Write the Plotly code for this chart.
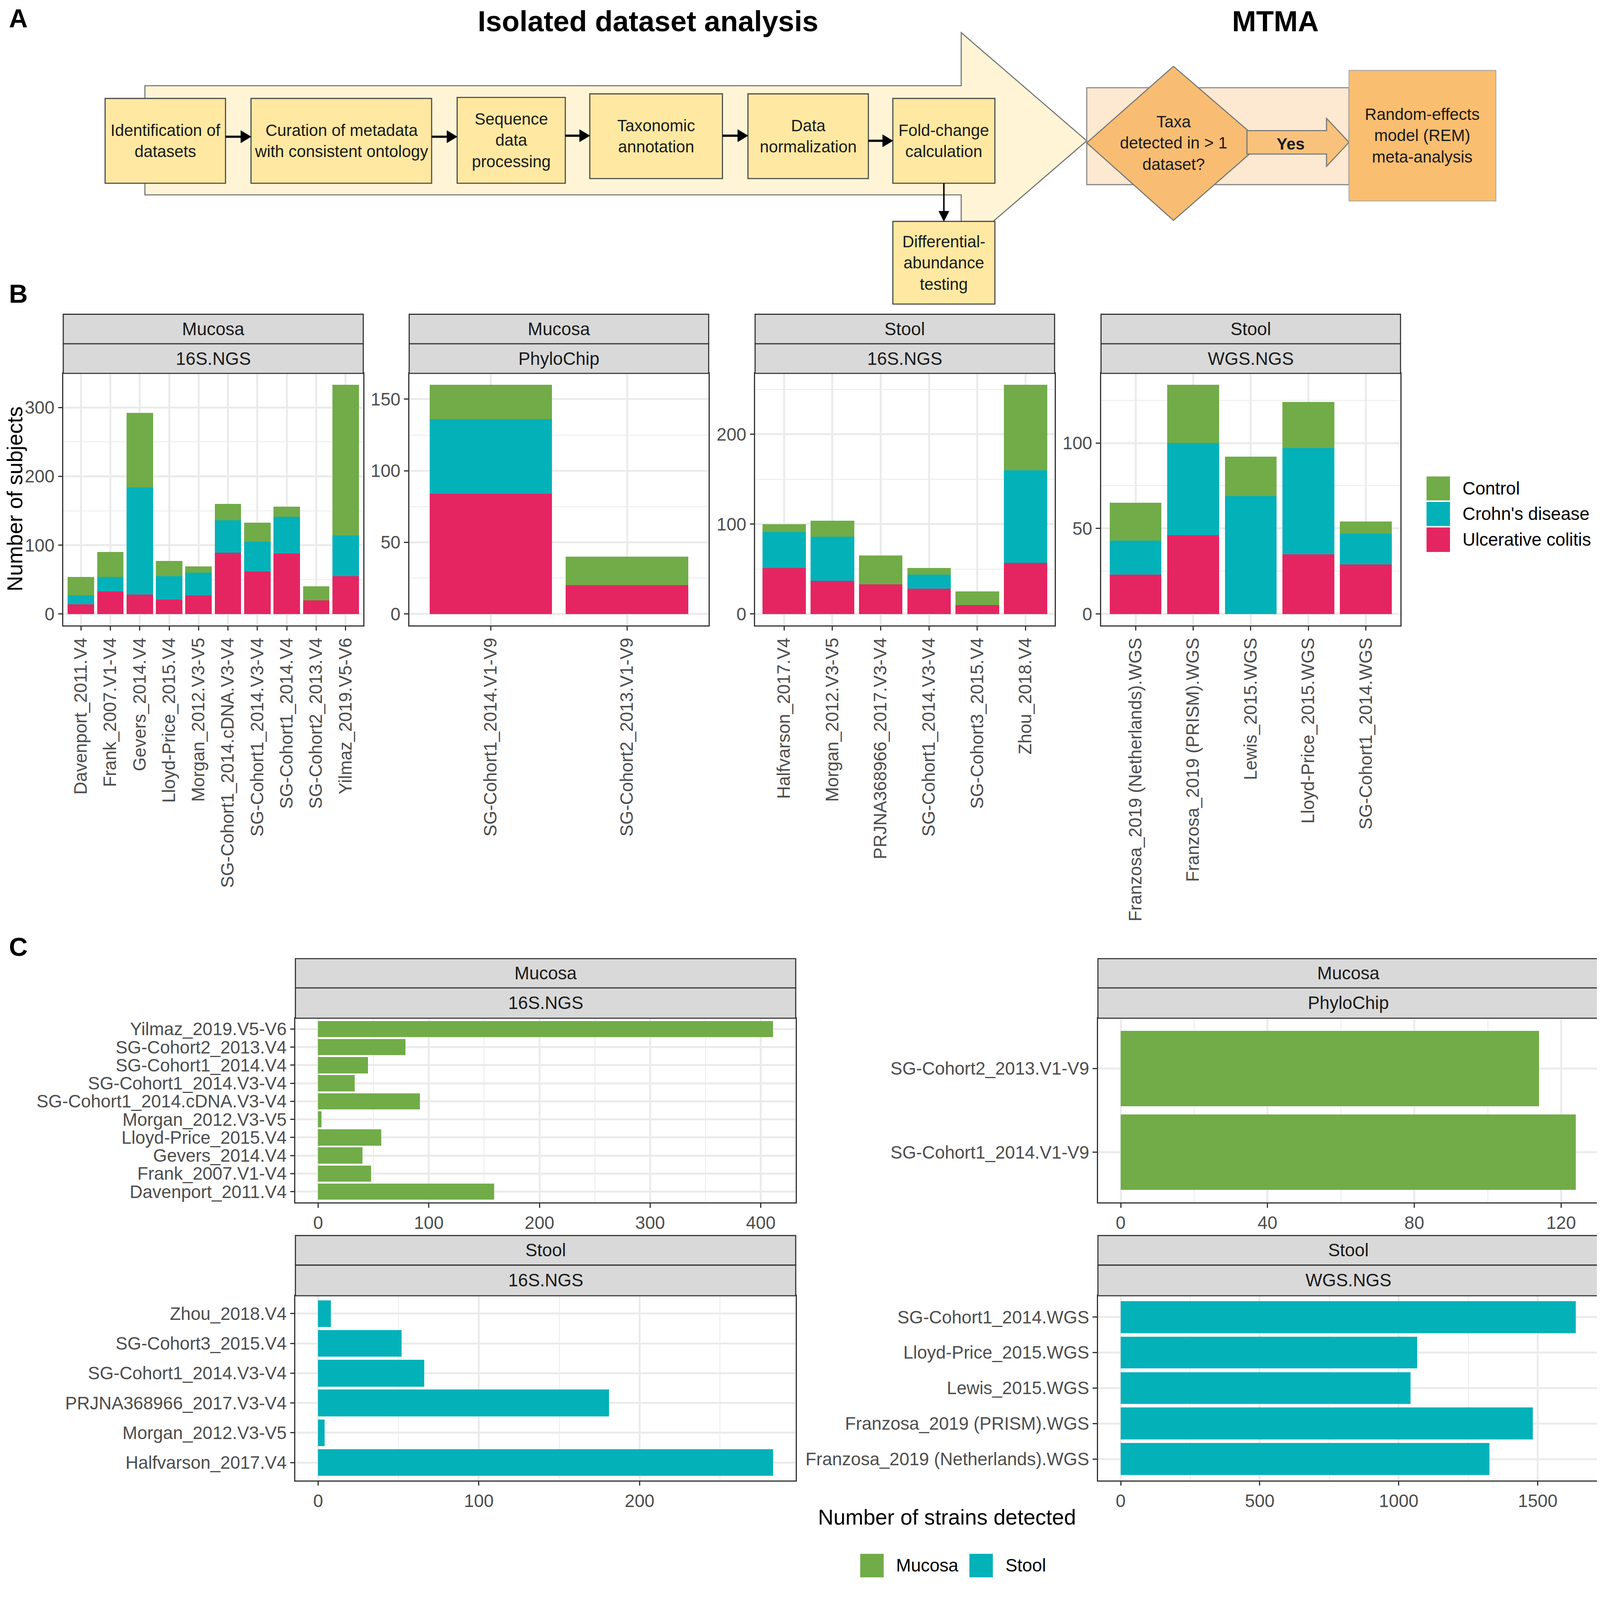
import plotly.graph_objects as go

# ======================= DATA =======================
# Panel B: number of subjects (stacked: UC bottom, CD middle, Control top)
b1_labels = ["Davenport_2011.V4", "Frank_2007.V1-V4", "Gevers_2014.V4", "Lloyd-Price_2015.V4",
             "Morgan_2012.V3-V5", "SG-Cohort1_2014.cDNA.V3-V4", "SG-Cohort1_2014.V3-V4",
             "SG-Cohort1_2014.V4", "SG-Cohort2_2013.V4", "Yilmaz_2019.V5-V6"]
b1_uc = [14, 33, 28, 21, 27, 89, 62, 88, 20, 55]
b1_cd = [13, 21, 156, 34, 33, 47, 43, 53, 0, 59]
b1_ctrl = [27, 36, 108, 22, 9, 24, 28, 15, 20, 219]

b2_labels = ["SG-Cohort1_2014.V1-V9", "SG-Cohort2_2013.V1-V9"]
b2_uc = [84, 20]
b2_cd = [52, 0]
b2_ctrl = [24, 20]

b3_labels = ["Halfvarson_2017.V4", "Morgan_2012.V3-V5", "PRJNA368966_2017.V3-V4",
             "SG-Cohort1_2014.V3-V4", "SG-Cohort3_2015.V4", "Zhou_2018.V4"]
b3_uc = [51, 37, 33, 28, 10, 57]
b3_cd = [40, 49, 0, 16, 0, 103]
b3_ctrl = [9, 18, 32, 7, 15, 95]

b4_labels = ["Franzosa_2019 (Netherlands).WGS", "Franzosa_2019 (PRISM).WGS", "Lewis_2015.WGS",
             "Lloyd-Price_2015.WGS", "SG-Cohort1_2014.WGS"]
b4_uc = [23, 46, 0, 35, 29]
b4_cd = [20, 54, 69, 62, 18]
b4_ctrl = [22, 34, 23, 27, 7]

# Panel C: number of strains detected (bottom-to-top order)
c1_labels = ["Davenport_2011.V4", "Frank_2007.V1-V4", "Gevers_2014.V4", "Lloyd-Price_2015.V4",
             "Morgan_2012.V3-V5", "SG-Cohort1_2014.cDNA.V3-V4", "SG-Cohort1_2014.V3-V4",
             "SG-Cohort1_2014.V4", "SG-Cohort2_2013.V4", "Yilmaz_2019.V5-V6"]
c1_vals = [159, 48, 40, 57, 3, 92, 33, 45, 79, 411]

c2_labels = ["SG-Cohort1_2014.V1-V9", "SG-Cohort2_2013.V1-V9"]
c2_vals = [124, 114]

c3_labels = ["Halfvarson_2017.V4", "Morgan_2012.V3-V5", "PRJNA368966_2017.V3-V4",
             "SG-Cohort1_2014.V3-V4", "SG-Cohort3_2015.V4", "Zhou_2018.V4"]
c3_vals = [283, 4, 181, 66, 52, 8]

c4_labels = ["Franzosa_2019 (Netherlands).WGS", "Franzosa_2019 (PRISM).WGS", "Lewis_2015.WGS",
             "Lloyd-Price_2015.WGS", "SG-Cohort1_2014.WGS"]
c4_vals = [1327, 1483, 1042, 1067, 1637]

legend_b = ["Control", "Crohn's disease", "Ulcerative colitis"]
legend_c = ["Mucosa", "Stool"]

# ======================= GEOMETRY / STYLE =======================
VW, VH = 4096.0, 4051.0      # visible page area (css px)
OFF = 8.0                    # default body margin of the page
W, H = int(VW - OFF), int(VH - OFF)
DW, DH = 1568.0, 1551.0      # reference coordinate frame used below
S = VW / 4317.0              # size scale


def px(x):
    return (x / DW * VW - OFF) / W


def py(y):
    return 1 - (y / DH * VH - OFF) / H


def sz(v):
    return v * S


FONT = "Liberation Sans, Arial, Helvetica, sans-serif"
C_CTRL = "#71AC48"
C_CD = "#03B1B9"
C_UC = "#E42562"
BORDER = "#333333"
GRID = "#EBEBEB"
TICK_C = "#4D4D4D"
TICK_FS = sz(48)
STRIP_FS = sz(48)
TITLE_FS = sz(58)
BOX_FS = sz(44)

fig = go.Figure()
shapes = []
annots = []
layout_axes = {}


def rect(x0, y0, x1, y1, fill, line="#555555", lw=3):
    shapes.append(dict(type="rect", xref="paper", yref="paper",
                       x0=px(x0), x1=px(x1), y0=py(y1), y1=py(y0),
                       fillcolor=fill, line=dict(color=line, width=sz(lw))))


def poly(pts, fill, line="#555555", lw=3):
    path = "M" + " L".join(f"{px(x):.6f},{py(y):.6f}" for x, y in pts) + " Z"
    shapes.append(dict(type="path", xref="paper", yref="paper", path=path,
                       fillcolor=fill, line=dict(color=line, width=sz(lw))))


def text(x, y, s, size, color="#1A1A1A", bold=False, xanchor="center", angle=0):
    if bold:
        s = f"<b>{s}</b>"
    annots.append(dict(x=px(x), y=py(y), xref="paper", yref="paper", text=s,
                       showarrow=False, xanchor=xanchor, yanchor="middle", textangle=angle,
                       font=dict(family=FONT, size=size, color=color)))


def arrow_h(x0, x1, y, lw=6, hl=10, hw=6):
    shapes.append(dict(type="line", xref="paper", yref="paper",
                       x0=px(x0), x1=px(x1 - hl + 1), y0=py(y), y1=py(y),
                       line=dict(color="black", width=sz(lw))))
    poly([(x1, y), (x1 - hl, y - hw), (x1 - hl, y + hw)], "black", "black", 1)


def arrow_v(x, y0, y1, lw=4, hl=10, hw=5):
    shapes.append(dict(type="line", xref="paper", yref="paper",
                       x0=px(x), x1=px(x), y0=py(y0), y1=py(y1 - hl + 1),
                       line=dict(color="black", width=sz(lw))))
    poly([(x, y1), (x - hw, y1 - hl), (x + hw, y1 - hl)], "black", "black", 1)


# ======================= PANEL A =======================
BOX = "#FFE8A1"
poly([(142, 84), (942, 84), (942, 32), (1065, 138), (942, 244), (942, 191), (142, 191)],
     "#FFF5D6", "#777777", 3)
rect(1065, 86, 1322, 181, "#FDE8D1", "#888888", 3)

boxes = [
    (103, 96.5, 221, 179.6, "Identification of<br>datasets"),
    (246, 96.5, 423, 179.6, "Curation of metadata<br>with consistent ontology"),
    (448, 95.5, 554, 179.6, "Sequence<br>data<br>processing"),
    (578, 92, 708, 175, "Taxonomic<br>annotation"),
    (733, 92, 851, 175, "Data<br>normalization"),
    (875, 96.5, 975, 179.6, "Fold-change<br>calculation"),
    (875, 217, 975, 298, "Differential-<br>abundance<br>testing"),
]
for x0, y0, x1, y1, t in boxes:
    rect(x0, y0, x1, y1, BOX, "#4A4A4A", 3)
    text((x0 + x1) / 2, (y0 + y1) / 2, t, BOX_FS)

arrow_h(221, 246, 134)
arrow_h(423, 448, 134)
arrow_h(554, 578, 133)
arrow_h(708, 733, 133)
arrow_h(851, 875, 138)
arrow_v(925, 179.6, 217)

# diamond, yes arrow, REM box
poly([(1065, 140), (1150, 65), (1237, 140), (1150, 216)], "#F8BD72", "#777777", 3)
poly([(1222, 128), (1300, 128), (1300, 116), (1322, 139.5), (1300, 163), (1300, 151), (1222, 151)],
     "#F9C27C", "#777777", 3)
rect(1322, 69, 1466, 197, "#F9BE70", "#A0A0A0", 2)
text(1150, 140, "Taxa<br>detected in > 1<br>dataset?", BOX_FS)
text(1265, 141, "Yes", BOX_FS, bold=True)
text(1394, 133, "Random-effects<br>model (REM)<br>meta-analysis", BOX_FS)

text(635, 21, "Isolated dataset analysis", sz(78), "black", bold=True)
text(1250, 21, "MTMA", sz(78), "black", bold=True)

# panel letters
text(8, 18, "A", sz(70), "black", bold=True, xanchor="left")
text(8, 288, "B", sz(70), "black", bold=True, xanchor="left")
text(8, 928, "C", sz(70), "black", bold=True, xanchor="left")


def base_axis():
    return dict(showline=True, mirror=True, linecolor=BORDER, linewidth=sz(3),
                ticks="outside", ticklen=sz(11), tickwidth=sz(3), tickcolor=BORDER,
                tickfont=dict(family=FONT, size=TICK_FS, color=TICK_C),
                showgrid=True, gridcolor=GRID, gridwidth=sz(5), zeroline=False,
                automargin=False, fixedrange=True)


def strips(x0, x1, ys, labels):
    for (ya, yb), lab in zip(ys, labels):
        rect(x0, ya, x1, yb, "#D9D9D9", BORDER, 3)
        text((x0 + x1) / 2, (ya + yb) / 2, lab, STRIP_FS)


# ======================= PANEL B =======================
b_panels = [
    (b1_labels, b1_uc, b1_cd, b1_ctrl, 62, 356, 100, "Mucosa", "16S.NGS"),
    (b2_labels, b2_uc, b2_cd, b2_ctrl, 401, 694.5, 50, "Mucosa", "PhyloChip"),
    (b3_labels, b3_uc, b3_cd, b3_ctrl, 740, 1033.5, 100, "Stool", "16S.NGS"),
    (b4_labels, b4_uc, b4_cd, b4_ctrl, 1079, 1372.5, 50, "Stool", "WGS.NGS"),
]
B_TOP, B_BOT = 366, 613
for i, (labs, uc, cd, ctrl, x0, x1, dt, s1, s2) in enumerate(b_panels, start=1):
    xa, ya = f"x{i}", f"y{i}"
    for vals, col in ((uc, C_UC), (cd, C_CD), (ctrl, C_CTRL)):
        fig.add_trace(go.Bar(x=labs, y=vals, xaxis=xa, yaxis=ya, width=0.9,
                             marker=dict(color=col, line=dict(width=0)),
                             showlegend=False, hoverinfo="skip"))
    m = max(a + b + c for a, b, c in zip(uc, cd, ctrl))
    n = len(labs)
    ax = base_axis()
    ax.update(domain=[px(x0), px(x1)], anchor=ya, type="category",
              categoryorder="array", categoryarray=labs,
              tickmode="array", tickvals=labs, ticktext=labs,
              range=[-0.6, n - 0.4], tickangle=-90)
    ay = base_axis()
    ay.update(domain=[py(B_BOT), py(B_TOP)], anchor=xa,
              range=[-0.05 * m, 1.05 * m], dtick=dt, tick0=0,
              minor=dict(dtick=dt / 2, tick0=0, showgrid=True, gridcolor=GRID, gridwidth=sz(2.5)))
    layout_axes["xaxis" if i == 1 else f"xaxis{i}"] = ax
    layout_axes["yaxis" if i == 1 else f"yaxis{i}"] = ay
    strips(x0, x1, [(308, 337), (337, 366)], [s1, s2])

annots.append(dict(x=px(14.5), y=py(489), xref="paper", yref="paper",
                   text="Number of subjects", showarrow=False, xanchor="center",
                   yanchor="middle", textangle=-90, borderpad=0,
                   font=dict(family=FONT, size=TITLE_FS, color="black")))

# legend B
for (ya, yb), lab, col in zip([(467, 490.5), (492, 515.5), (517, 541)], legend_b,
                              [C_CTRL, C_CD, C_UC]):
    rect(1398, ya, 1421, yb, col, col, 0)
    text(1432.5, (ya + yb) / 2, lab, TICK_FS, "black", xanchor="left")

# ======================= PANEL C =======================
c_panels = [
    (c1_labels, c1_vals, C_CTRL, 289.5, 779.8, 998, 1178.6, 100, "Mucosa", "16S.NGS", (939.6, 968.3)),
    (c2_labels, c2_vals, C_CTRL, 1076, 1566.6, 998, 1178.6, 40, "Mucosa", "PhyloChip", (939.6, 968.3)),
    (c3_labels, c3_vals, C_CD, 289.5, 779.8, 1270, 1451, 100, "Stool", "16S.NGS", (1211, 1240)),
    (c4_labels, c4_vals, C_CD, 1076, 1566.6, 1270, 1451, 500, "Stool", "WGS.NGS", (1211, 1240)),
]
for j, (labs, vals, col, x0, x1, yt, yb, dt, s1, s2, (sa, sb)) in enumerate(c_panels, start=5):
    xa, ya = f"x{j}", f"y{j}"
    fig.add_trace(go.Bar(x=vals, y=labs, orientation="h", xaxis=xa, yaxis=ya, width=0.9,
                         marker=dict(color=col, line=dict(width=0)),
                         showlegend=False, hoverinfo="skip"))
    m = max(vals)
    n = len(labs)
    ax = base_axis()
    ax.update(domain=[px(x0), px(x1)], anchor=ya, range=[-0.05 * m, 1.05 * m],
              dtick=dt, tick0=0,
              minor=dict(dtick=dt / 2, tick0=0, showgrid=True, gridcolor=GRID, gridwidth=sz(2.5)))
    ay = base_axis()
    ay.update(domain=[py(yb), py(yt)], anchor=xa, type="category",
              categoryorder="array", categoryarray=labs,
              tickmode="array", tickvals=labs, ticktext=labs,
              range=[-0.6, n - 0.4])
    layout_axes[f"xaxis{j}"] = ax
    layout_axes[f"yaxis{j}"] = ay
    strips(x0, x1, [(sa, sb), (sb, yt)], [s1, s2])

text(928, 1487, "Number of strains detected", TITLE_FS, "black")

for (xa_, xb_), lab, col in zip([(843, 866), (950, 973)], legend_c, [C_CTRL, C_CD]):
    rect(xa_, 1523, xb_, 1546, col, col, 0)
    text(xb_ + 11.5, 1534.5, lab, TICK_FS, "black", xanchor="left")

fig.update_layout(
    width=W, height=H, margin=dict(l=0, r=0, t=0, b=0),
    paper_bgcolor="white", plot_bgcolor="white",
    barmode="stack", bargap=0.1, showlegend=False,
    font=dict(family=FONT, size=TICK_FS, color=TICK_C),
    shapes=shapes, annotations=annots,
    **layout_axes,
)

fig.write_html("out.html")
